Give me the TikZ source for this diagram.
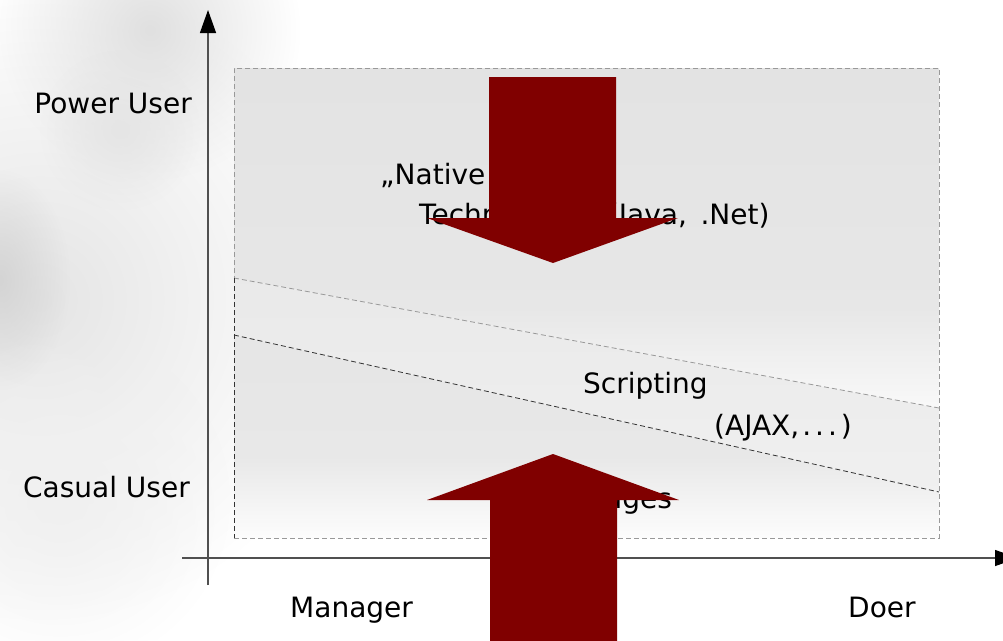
\documentclass[tikz,border=0pt]{standalone}
\usepackage{fontspec}
\setmainfont{DejaVu Sans}
\usetikzlibrary{arrows.meta,fadings}

\tikzfading[name=softblob, inner color=transparent!0, outer color=transparent!100]

\definecolor{arrowred}{HTML}{800000}
\definecolor{axisgray}{HTML}{505050}

% vertical shadings of the three bands (path box spans 25bp..75bp)
\pgfdeclareverticalshading{bandtop}{100bp}{%
  rgb(0bp)=(0.975,0.975,0.975); rgb(25bp)=(0.975,0.975,0.975);
  rgb(40bp)=(0.905,0.905,0.905); rgb(75bp)=(0.89,0.89,0.89);
  rgb(100bp)=(0.89,0.89,0.89)}
\pgfdeclareverticalshading{bandmid}{100bp}{%
  rgb(0bp)=(0.94,0.94,0.94); rgb(25bp)=(0.94,0.94,0.94);
  rgb(75bp)=(0.915,0.915,0.915); rgb(100bp)=(0.915,0.915,0.915)}
\pgfdeclareverticalshading{bandlow}{100bp}{%
  rgb(0bp)=(0.99,0.99,0.99); rgb(25bp)=(0.99,0.99,0.99);
  rgb(45bp)=(0.91,0.91,0.91); rgb(75bp)=(0.9,0.9,0.9);
  rgb(100bp)=(0.9,0.9,0.9)}

\tikzset{
  lbl/.style={inner sep=0pt, font=\fontsize{28}{30}\selectfont, text=black},
  blob/.style={path fading=softblob},
  bandline/.style={draw=gray!80, dash pattern=on 5pt off 3pt, line width=0.8pt},
  darkline/.style={draw=black!80, dash pattern=on 5pt off 3pt, line width=0.8pt},
  axisline/.style={draw=axisgray, line width=1.3pt},
  axishead/.style={-{Triangle[length=23pt,width=16pt,color=black]}},
  bigarrow/.style={fill=arrowred, draw=none}
}

\begin{document}
\begin{tikzpicture}[x=1pt,y=-1pt]
  \useasboundingbox (0,0) rectangle (1003,640);
  \fill[white] (0,0) rectangle (1003,640);

  % soft grey backdrop on the left
  \fill[black!10, blob] (40,300) circle (320);
  \fill[black!12, blob] (150,30) circle (150);
  \fill[black!10, blob] (120,130) circle (80);
  \fill[black!17, blob] (0,280) ellipse (70 and 110);
  \fill[black!6, blob] (60,500) circle (170);

  % three bands of the field
  \shade[shading=bandtop] (234,68) -- (939,68) -- (939,408) -- (234,278) -- cycle;
  \shade[shading=bandmid] (234,278) -- (939,408) -- (939,492) -- (234,335) -- cycle;
  \shade[shading=bandlow] (234,335) -- (939,492) -- (939,538) -- (234,538) -- cycle;

  % outlines
  \coordinate (boxNW) at (234,68);
  \coordinate (boxNE) at (939,68);
  \coordinate (boxSE) at (939,538);
  \coordinate (boxSW) at (234,538);
  \coordinate (upL) at (234,278);
  \coordinate (upR) at (939,408);
  \coordinate (loL) at (234,335);
  \coordinate (loR) at (939,492);
  \path[bandline] (boxSW) -- (boxSE) -- (boxNE) -- (boxNW) -- (upL);
  \path[bandline] (upL) -- (upR);
  \path[darkline] (upL) -- (boxSW);
  \path[darkline] (loL) -- (loR);

  % axes
  \coordinate (yb) at (208,585);
  \coordinate (yt) at (208,10);
  \coordinate (xl) at (182,558);
  \coordinate (xr) at (1018,558);
  \draw[axisline, axishead] (yb) -- (yt);
  \draw[axisline, axishead] (xl) -- (xr);

  % labels
  \node[lbl, anchor=base east] (power) at (192,113) {Power User};
  \node[lbl, anchor=base east] (casual) at (190,497) {Casual User};
  \node[lbl, anchor=base west] (manager) at (290,617) {Manager};
  \node[lbl, anchor=base west] (doer) at (848,617) {Doer};

  \node[lbl, anchor=base west] (native1) at (380,184) {„Native\hspace{6pt}“};
  \node[lbl, anchor=base west] (native2) at (419,224) {Technologies (Java,\, .Net)};
  \node[lbl, anchor=base west] (script1) at (583,393) {Scripting};
  \node[lbl, anchor=base west] (script2) at (714,435)
    {(AJAX,\hspace{3pt}.\hspace{4pt}.\hspace{4pt}.\hspace{4pt})};
  \node[lbl, anchor=base east] (pages) at (672,508) {Web Pages};

  % the two broad arrows
  \fill[bigarrow] (489,77) -- (616,77) -- (616,218) -- (678,218) -- (553,263)
    -- (427,218) -- (489,218) -- cycle;
  \fill[bigarrow] (490,650) -- (490,500) -- (427,500) -- (553,454) -- (679,500)
    -- (617,500) -- (617,650) -- cycle;
\end{tikzpicture}
\end{document}
